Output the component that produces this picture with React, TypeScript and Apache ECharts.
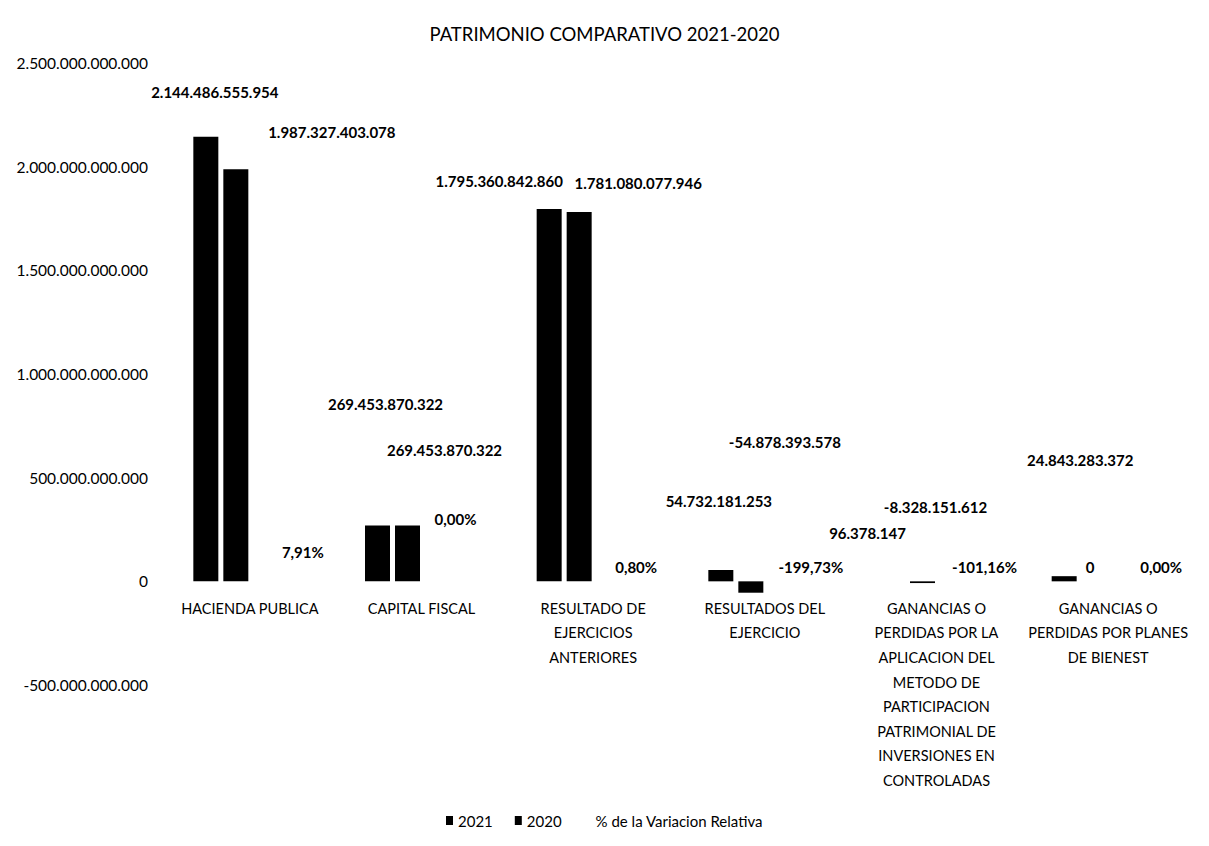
import React, { useEffect, useRef } from "react";
import * as echarts from "echarts";

const categories = [
  "HACIENDA PUBLICA",
  "CAPITAL FISCAL",
  "RESULTADO DE\nEJERCICIOS\nANTERIORES",
  "RESULTADOS DEL\nEJERCICIO",
  "GANANCIAS O\nPERDIDAS POR LA\nAPLICACION DEL\nMETODO DE\nPARTICIPACION\nPATRIMONIAL DE\nINVERSIONES EN\nCONTROLADAS",
  "GANANCIAS O\nPERDIDAS POR PLANES\nDE BIENEST",
];
const values2021 = [2144486555954, 269453870322, 1795360842860, 54732181253, 96378147, 24843283372];
const values2020 = [1987327403078, 269453870322, 1781080077946, -54878393578, -8328151612, 0];
const variation = [7.91, 0.0, 0.8, -199.73, -101.16, 0.0];
const seriesNames = ["2021", "2020", "% de la Variacion Relativa"];

const yMin = -500000000000;
const yMax = 2500000000000;
const yStep = 500000000000;

// label offsets (px) relative to each bar's centre, as placed in the original
const off2021 = [[9, -267], [8, -149], [-50, -214], [-2, -75], [-25, -48], [16, -119]];
const off2020 = [[96, -243], [37, -103], [59, -214], [34, -145], [13, -75], [-4, -14]];
const offPct = [[37, -29], [18, -62], [27, -14], [30, -14], [32, -14], [37, -14]];

const fmt = (v: number) => {
  const s = Math.round(Math.abs(v)).toString().replace(/\B(?=(\d{3})+(?!\d))/g, ".");
  return (v < 0 ? "-" : "") + s;
};
const fmtPct = (v: number) => v.toFixed(2).replace(".", ",") + "%";

const FONT = "Lato";

export default function App() {
  const ref = useRef<HTMLDivElement>(null);
  useEffect(() => {
    if (!ref.current) return;
    const chart = echarts.init(ref.current, undefined, { renderer: "svg" });
    const labelBase = {
      show: true,
      position: "inside",
      color: "#000",
      fontFamily: FONT,
      fontWeight: "bold",
      fontSize: 15,
      textBorderWidth: 0,
    };
    const mk = (vals: number[], offs: number[][], f: (v: number) => string) =>
      vals.map((v, i) => ({
        value: v,
        label: { ...labelBase, offset: offs[i], formatter: () => f(v) },
      }));
    chart.setOption({
      animation: false,
      backgroundColor: "#fff",
      title: {
        text: "PATRIMONIO COMPARATIVO 2021-2020",
        left: "center",
        top: 19,
        textStyle: { fontFamily: FONT, fontSize: 18.5, fontWeight: "normal", color: "#000" },
      },
      legend: {
        top: 808,
        left: 441,
        icon: "rect",
        itemWidth: 7,
        itemHeight: 9,
        itemGap: 22,
        textStyle: { fontFamily: FONT, fontSize: 15, color: "#000" },
        data: seriesNames,
      },
      grid: { left: 150, top: 63, width: 1030, height: 622, outerBoundsMode: "none" },
      xAxis: {
        type: "category",
        data: categories,
        position: "bottom",
        offset: -104,
        axisLine: { show: false, onZero: false },
        axisTick: { show: false },
        axisLabel: {
          interval: 0,
          margin: 15,
          color: "#000",
          fontFamily: FONT,
          fontSize: 14.5,
          lineHeight: 24.6,
          padding: [0, 0, 0, 28],
        },
      },
      yAxis: {
        type: "value",
        min: yMin,
        max: yMax,
        interval: yStep,
        splitLine: { show: false },
        axisLine: { show: false },
        axisTick: { show: false },
        axisLabel: {
          margin: 2,
          color: "#000",
          fontFamily: FONT,
          fontSize: 15.5,
          formatter: (v: number) => fmt(v),
        },
      },
      series: [
        {
          name: seriesNames[0],
          type: "bar",
          barWidth: 25,
          barGap: "20%",
          itemStyle: { color: "#000" },
          data: mk(values2021, off2021, fmt),
        },
        {
          name: seriesNames[1],
          type: "bar",
          barWidth: 25,
          barGap: "20%",
          itemStyle: { color: "#000" },
          data: mk(values2020, off2020, fmt),
        },
        {
          name: seriesNames[2],
          type: "bar",
          barWidth: 25,
          barGap: "20%",
          itemStyle: { color: "rgba(0,0,0,0)" },
          data: mk(variation, offPct, fmtPct),
        },
      ],
    });
    return () => chart.dispose();
  }, []);
  return (
    <div
      ref={ref}
      style={{ position: "fixed", left: 0, top: 0, width: 1209, height: 846, background: "#fff" }}
    />
  );
}
